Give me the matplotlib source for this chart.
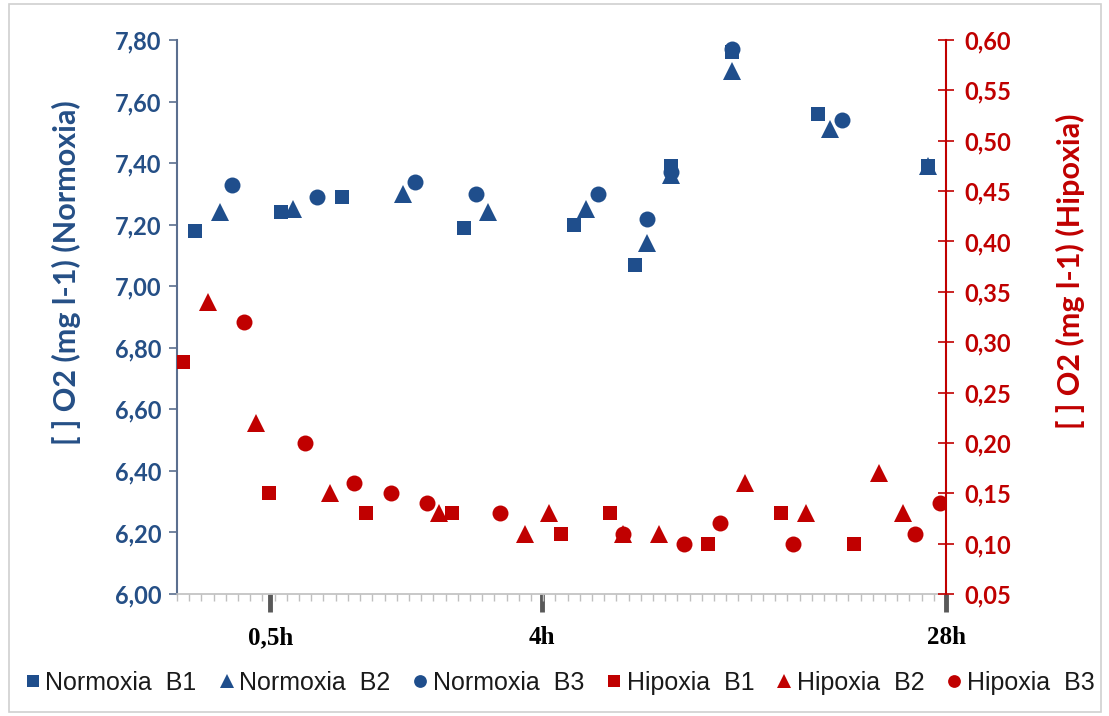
import matplotlib
matplotlib.use("Agg")
import matplotlib.pyplot as plt
from matplotlib import font_manager
from matplotlib.patches import Rectangle
import numpy as np

# sample positions along the category axis (63 slots) and O2 values
norm_b1_x = [1, 8, 13, 23, 32, 37, 40, 45, 52, 61]
norm_b1_y = [7.18, 7.24, 7.29, 7.19, 7.20, 7.07, 7.39, 7.76, 7.56, 7.39]
norm_b2_x = [3, 9, 18, 25, 33, 38, 40, 45, 53, 61]
norm_b2_y = [7.24, 7.25, 7.30, 7.24, 7.25, 7.14, 7.36, 7.70, 7.51, 7.39]
norm_b3_x = [4, 11, 19, 24, 34, 38, 40, 45, 54]
norm_b3_y = [7.33, 7.29, 7.34, 7.30, 7.30, 7.22, 7.37, 7.77, 7.54]

hip_b1_x = [0, 7, 15, 22, 31, 35, 43, 49, 55]
hip_b1_y = [0.28, 0.15, 0.13, 0.13, 0.11, 0.13, 0.10, 0.13, 0.10]
hip_b2_x = [2, 6, 12, 21, 28, 30, 36, 39, 46, 51, 57, 59]
hip_b2_y = [0.34, 0.22, 0.15, 0.13, 0.11, 0.13, 0.11, 0.11, 0.16, 0.13, 0.17, 0.13]
hip_b3_x = [5, 10, 14, 17, 20, 26, 36, 41, 44, 50, 60, 62]
hip_b3_y = [0.32, 0.20, 0.16, 0.15, 0.14, 0.13, 0.11, 0.10, 0.12, 0.10, 0.11, 0.14]

n_slots = 63
time_ticks = [7.15, 29.4, 62.5]
time_labels = ["0,5h", "4h", "28h"]

left_ticks = [6.0, 6.2, 6.4, 6.6, 6.8, 7.0, 7.2, 7.4, 7.6, 7.8]
right_ticks = [0.05, 0.10, 0.15, 0.20, 0.25, 0.30, 0.35, 0.40, 0.45, 0.50, 0.55, 0.60]

BLUE = "#1F4E8C"
BLUE_TXT = "#254F86"
RED = "#C00000"


def has_font(name):
    try:
        font_manager.findfont(font_manager.FontProperties(family=name), fallback_to_default=False)
        return True
    except Exception:
        return False


sans = "Lato" if has_font("Lato") else "DejaVu Sans"
narrow = "Liberation Sans Narrow" if has_font("Liberation Sans Narrow") else None

fig = plt.figure(figsize=(11.09, 7.16), dpi=100)
ax = fig.add_axes([177 / 1109, 1 - 594 / 716, (946 - 177) / 1109, (594 - 40) / 716])
ax2 = ax.twinx()

ms = dict(linestyle="none", markeredgewidth=0)
h1, = ax.plot(norm_b1_x, norm_b1_y, marker="s", markersize=10, color=BLUE, label="Normoxia  B1", **ms)
h2, = ax.plot(norm_b2_x, norm_b2_y, marker="^", markersize=12.5, color=BLUE, label="Normoxia  B2", **ms)
h3, = ax.plot(norm_b3_x, norm_b3_y, marker="o", markersize=11.5, color=BLUE, label="Normoxia  B3", **ms)
h4, = ax2.plot(hip_b1_x, hip_b1_y, marker="s", markersize=10, color=RED, label="Hipoxia  B1", **ms)
h5, = ax2.plot(hip_b2_x, hip_b2_y, marker="^", markersize=12.5, color=RED, label="Hipoxia  B2", **ms)
h6, = ax2.plot(hip_b3_x, hip_b3_y, marker="o", markersize=11.5, color=RED, label="Hipoxia  B3", **ms)

ax.set_xlim(-0.5, n_slots - 0.5)
ax.set_ylim(6.0, 7.8)
ax2.set_ylim(0.05, 0.60)

# left axis
ax.set_yticks(left_ticks)
ax.set_yticklabels([f"{v:.2f}".replace(".", ",") for v in left_ticks],
                   fontsize=17, fontweight="bold", color=BLUE_TXT, family=sans)
ax.tick_params(axis="y", direction="out", length=6, width=1.2, color="#5B6F8F", pad=5)
# right axis
ax2.set_yticks(right_ticks)
ax2.set_yticklabels([f"{v:.2f}".replace(".", ",") for v in right_ticks],
                    fontsize=17, fontweight="bold", color=RED, family=sans)
ax2.tick_params(axis="y", direction="inout", length=12, width=1.2, color=RED, pad=7)

for a in (ax, ax2):
    a.spines["top"].set_visible(False)
ax.spines["right"].set_visible(False)
ax2.spines["left"].set_visible(False)
ax2.spines["bottom"].set_visible(False)
ax2.spines["right"].set_color(RED)
ax2.spines["right"].set_linewidth(1.5)
ax.spines["left"].set_color("#5B6F8F")
ax.spines["left"].set_linewidth(1.5)
ax.spines["bottom"].set_color("#BFBFBF")
ax.spines["bottom"].set_linewidth(1.2)

# category boundaries as minor ticks, time marks as major ticks
ax.set_xticks(np.arange(-0.5, n_slots), minor=True)
ax.tick_params(axis="x", which="minor", direction="out", length=5, width=1, color="#BFBFBF")
ax.set_xticks(time_ticks)
ax.set_xticklabels(time_labels, fontsize=18, fontweight="bold", family="Liberation Serif", color="black")
ax.tick_params(axis="x", which="major", direction="out", length=13, width=3.5, color="#595959", pad=10)

fig.text(66 / 1109, 1 - 273 / 716, "[ ] O2 (mg l-1) (Normoxia)", rotation=90, ha="center", va="center",
         fontsize=22, fontweight="bold", color=BLUE_TXT, family=sans)
fig.text(1070 / 1109, 1 - 271 / 716, "[ ] O2 (mg l-1) (Hipoxia)", rotation=90, ha="center", va="center",
         fontsize=22, fontweight="bold", color=RED, family=sans)

if narrow:
    leg_prop = font_manager.FontProperties(family=narrow, size=19)
else:
    leg_prop = font_manager.FontProperties(family="Liberation Sans", size=18)
fig.legend(handles=[h1, h2, h3, h4, h5, h6], loc="center", bbox_to_anchor=(0.505, 1 - 683 / 716),
           ncol=6, frameon=False, prop=leg_prop, markerscale=0.8, handlelength=0.6,
           handletextpad=0.2, columnspacing=0.9, labelcolor="#1a1a1a")

fig.patches.append(Rectangle((9 / 1109, 4 / 716), 1092 / 1109, 708 / 716, transform=fig.transFigure,
                             fill=False, edgecolor="#D0D0D0", linewidth=1.2))

fig.savefig("out.png", dpi=100)
